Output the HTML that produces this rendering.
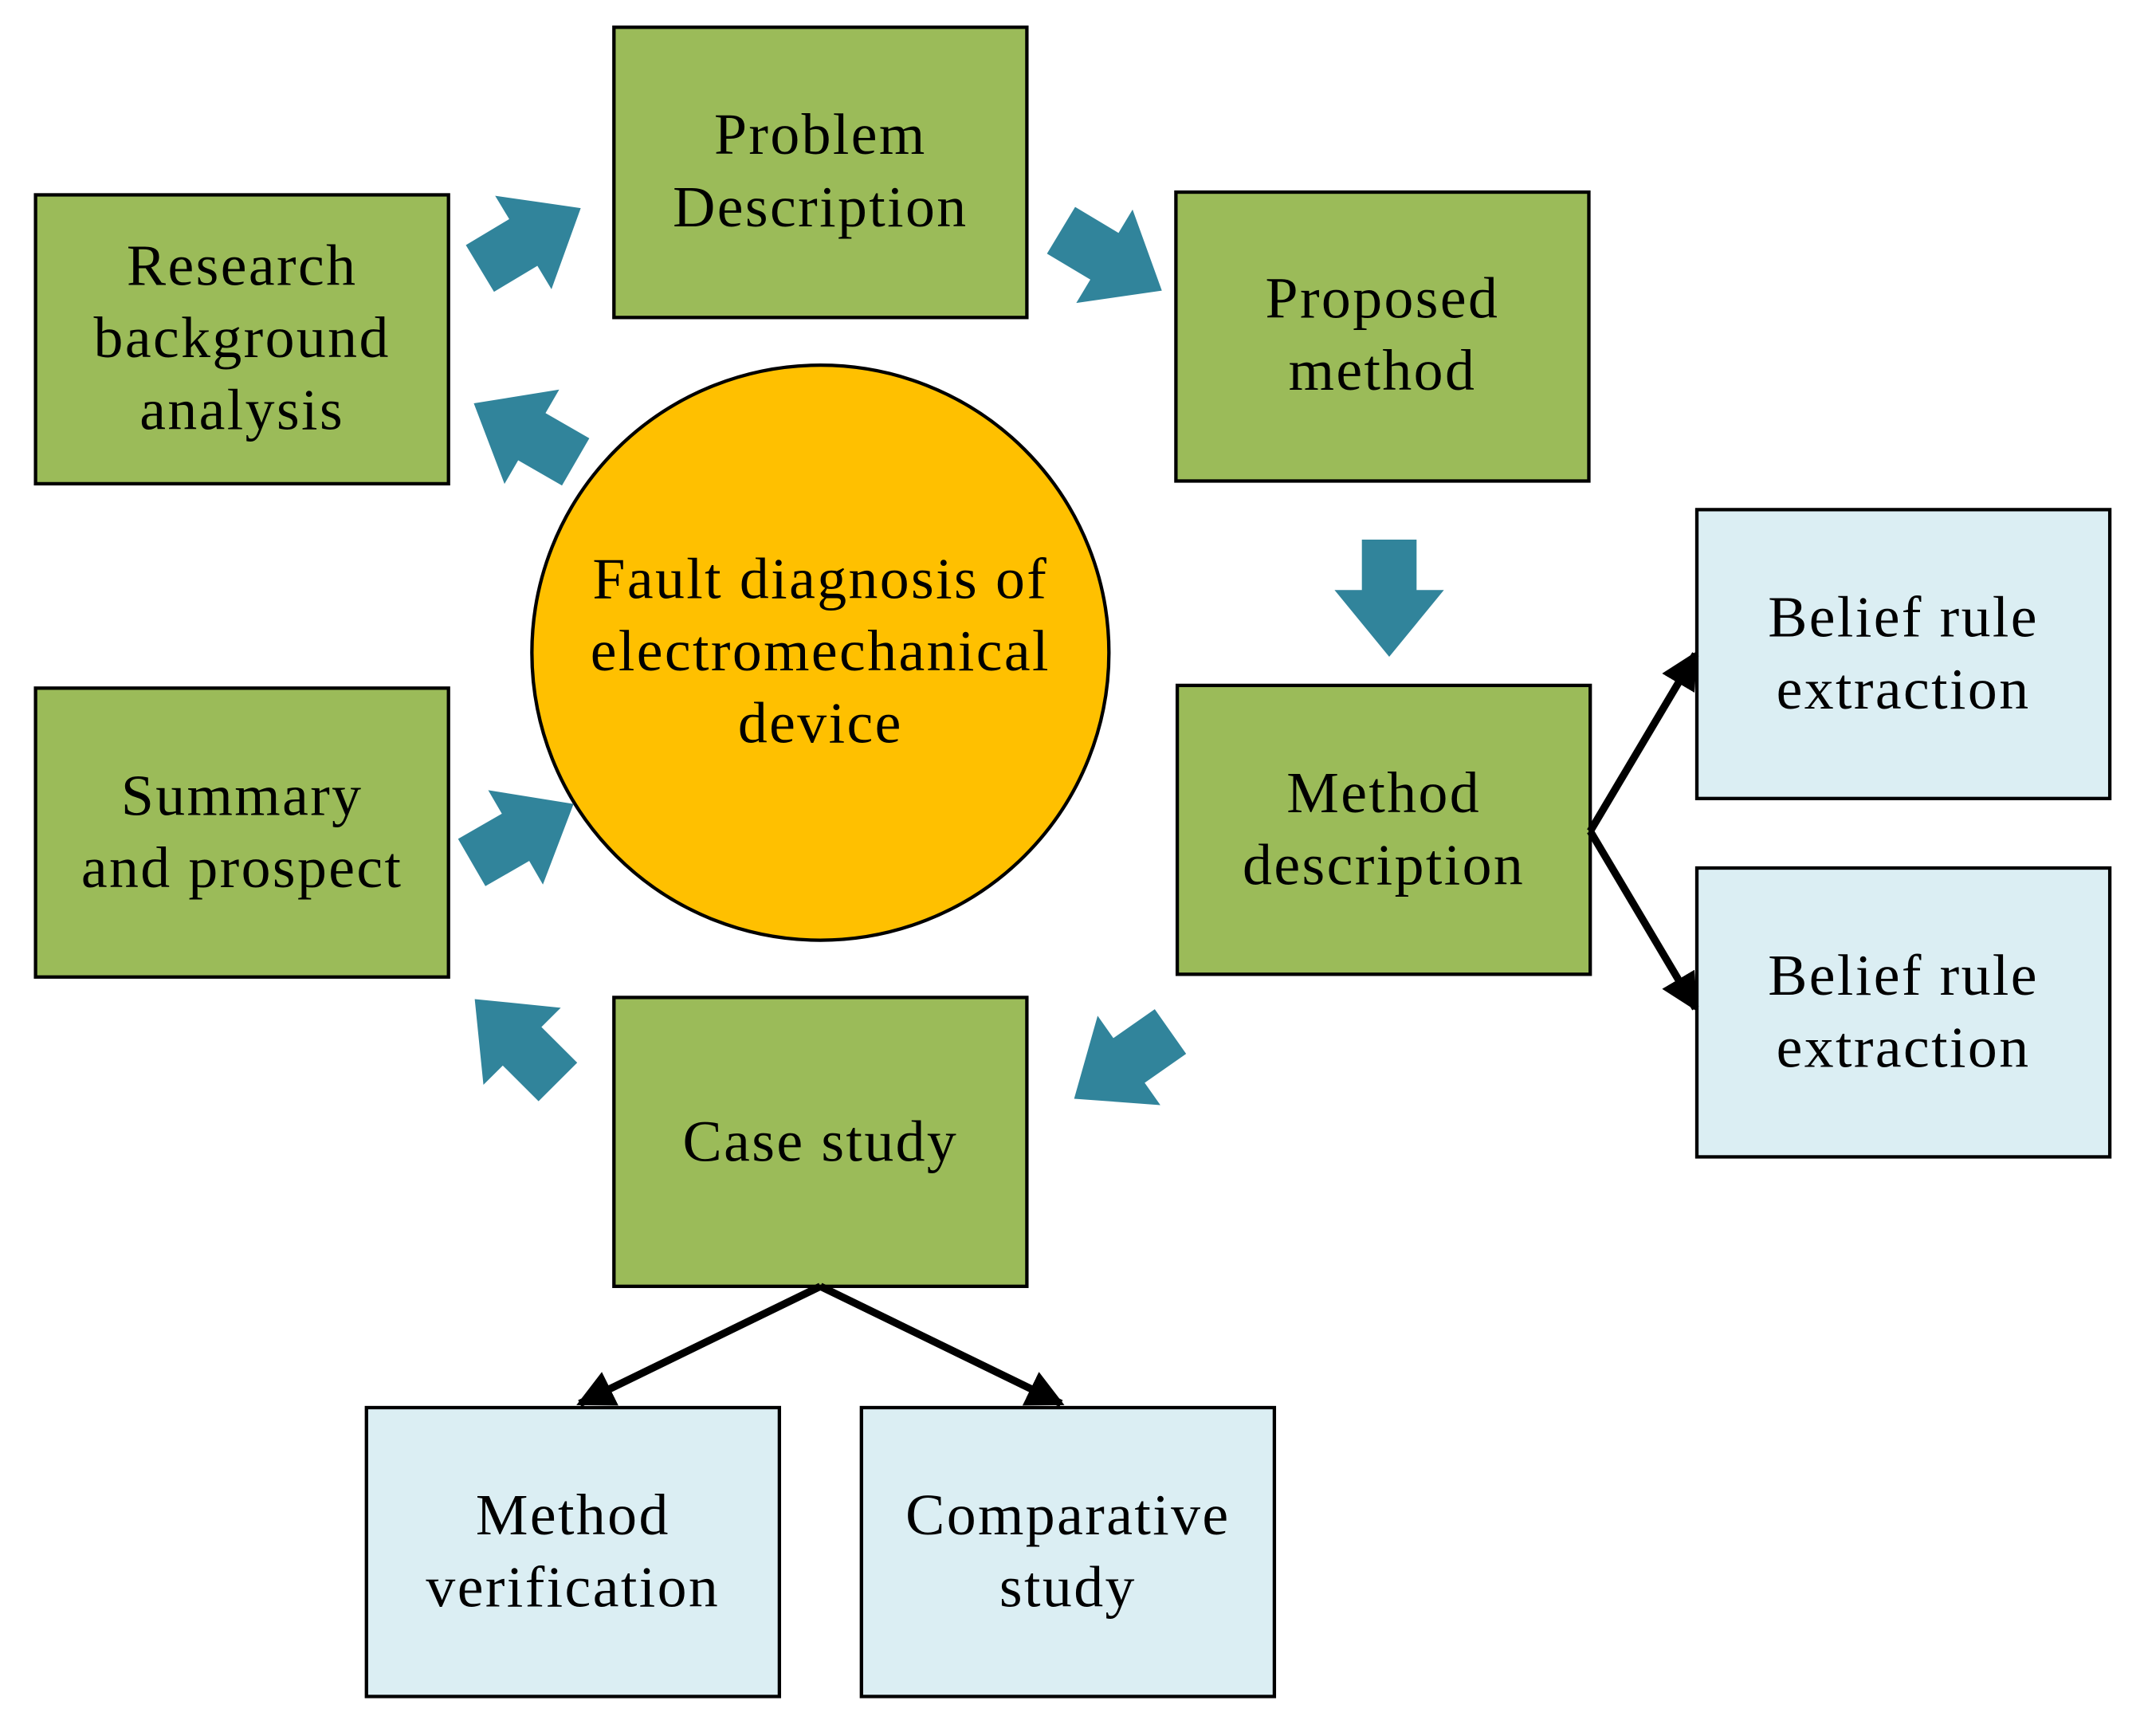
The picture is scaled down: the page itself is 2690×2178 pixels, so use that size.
<!DOCTYPE html>
<html><head><meta charset="utf-8"><style>
html,body{margin:0;padding:0;background:#fff;}
svg{display:block}
text{font-family:"Liberation Serif",serif;font-size:43px;letter-spacing:1.4px;fill:#000;text-anchor:middle}
</style></head><body>
<svg width="2690" height="2178" viewBox="0 0 1568 1274" preserveAspectRatio="none" xmlns="http://www.w3.org/2000/svg">
<defs>
<polygon id="ba" points="0,-20 37,-20 37,-40 86,0 37,40 37,20 0,20" fill="#31849B"/>
<marker id="ah" viewBox="0 0 10 10" refX="9" refY="5" markerWidth="5" markerHeight="5" orient="auto" markerUnits="strokeWidth"><path d="M0,0 L10,5 L0,10 z" fill="#000"/></marker>
</defs>
<g stroke="#000" stroke-width="2.5">
<rect x="26" y="143" width="302" height="212" fill="#9BBB59"/>
<rect x="449" y="20" width="302" height="213" fill="#9BBB59"/>
<rect x="860" y="141" width="302" height="212" fill="#9BBB59"/>
<rect x="861" y="503" width="302" height="212" fill="#9BBB59"/>
<rect x="449" y="732" width="302" height="212" fill="#9BBB59"/>
<rect x="26" y="505" width="302" height="212" fill="#9BBB59"/>
<rect x="1241" y="374" width="302" height="212" fill="#DBEEF3"/>
<rect x="1241" y="637" width="302" height="212" fill="#DBEEF3"/>
<rect x="268" y="1033" width="302" height="212" fill="#DBEEF3"/>
<rect x="630" y="1033" width="302" height="212" fill="#DBEEF3"/>
<circle cx="600" cy="479" r="211" fill="#FFC000"/>
</g>
<use href="#ba" transform="translate(351,197) rotate(-31)"/>
<use href="#ba" transform="translate(776,169) rotate(31)"/>
<use href="#ba" transform="translate(1016,396) rotate(90)"/>
<use href="#ba" transform="translate(856,757) rotate(145)"/>
<use href="#ba" transform="translate(408,794) rotate(-135)"/>
<use href="#ba" transform="translate(345,633) rotate(-30)"/>
<use href="#ba" transform="translate(421,339) rotate(210)"/>
<g stroke="#000" stroke-width="5.5" fill="none">
<line x1="1163" y1="610" x2="1240" y2="480" marker-end="url(#ah)"/>
<line x1="1163" y1="610" x2="1240" y2="740" marker-end="url(#ah)"/>
<line x1="600" y1="944" x2="424" y2="1030" marker-end="url(#ah)"/>
<line x1="600" y1="944" x2="776" y2="1030" marker-end="url(#ah)"/>
</g>
<text x="177" y="209">Research</text><text x="177" y="262">background</text><text x="177" y="315">analysis</text>
<text x="600" y="113">Problem</text><text x="600" y="166">Description</text>
<text x="1011" y="233">Proposed</text><text x="1011" y="286">method</text>
<text x="1012" y="596">Method</text><text x="1012" y="649">description</text>
<text x="600" y="852">Case study</text>
<text x="177" y="598">Summary</text><text x="177" y="651">and prospect</text>
<text x="1392" y="467">Belief rule</text><text x="1392" y="520">extraction</text>
<text x="1392" y="730">Belief rule</text><text x="1392" y="783">extraction</text>
<text x="419" y="1126">Method</text><text x="419" y="1179">verification</text>
<text x="781" y="1126">Comparative</text><text x="781" y="1179">study</text>
<text x="600" y="439">Fault diagnosis of</text><text x="600" y="492">electromechanical</text><text x="600" y="545">device</text>
</svg>
</body></html>
